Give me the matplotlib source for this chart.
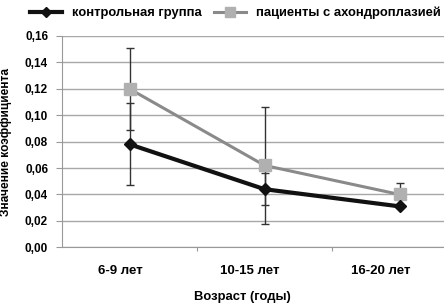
import matplotlib
matplotlib.use("Agg")
import matplotlib.pyplot as plt
from matplotlib.lines import Line2D
from matplotlib.ticker import FuncFormatter

plt.rcParams['font.family'] = ['Liberation Sans', 'DejaVu Sans']

categories = ["6-9 лет", "10-15 лет", "16-20 лет"]
control = [0.078, 0.044, 0.031]
control_err = [0.031, 0.012, 0.0]
patients = [0.120, 0.062, 0.040]
patients_err_low = [0.031, 0.044, 0.0]
patients_err_high = [0.031, 0.044, 0.009]
yticks = [0.00, 0.02, 0.04, 0.06, 0.08, 0.10, 0.12, 0.14, 0.16]
series_names = ['контрольная группа', 'пациенты с ахондроплазией']

W, H = 444, 306
fig = plt.figure(figsize=(W/100, H/100), dpi=100)
ax = fig.add_axes([62/W, 1-247.3/H, 405/W, (247.3-36)/H])

x = list(range(len(categories)))
ax.errorbar(x, patients, yerr=[patients_err_low, patients_err_high], color='#8a8a8a', lw=2.2,
            marker='s', ms=9, mfc='#b0b0b0', mec='#b0b0b0',
            ecolor='#333333', elinewidth=1, capsize=3, capthick=1, zorder=3)
ax.errorbar(x, control, yerr=control_err, color='#111111', lw=3,
            marker='D', ms=6, mfc='#111111', mec='#111111',
            ecolor='#333333', elinewidth=1, capsize=3, capthick=1, zorder=4)

ax.set_xlim(-0.5, 2.5)
ax.set_ylim(0, 0.16)
ax.set_yticks(yticks)
ax.yaxis.set_major_formatter(FuncFormatter(lambda v, p: f"{v:.2f}".replace('.', ',')))
ax.grid(axis='y', color='#a8a8a8', lw=1)
ax.set_axisbelow(True)
for s in ['top', 'right']:
    ax.spines[s].set_visible(False)
ax.spines['left'].set_color('#999999')
ax.spines['bottom'].set_color('#999999')
ax.tick_params(axis='y', length=4, color='#999999', labelsize=8.5, pad=6)
ax.set_xticks([0.5, 1.5])
ax.set_xticklabels([])
ax.tick_params(axis='x', length=3, color='#999999')
for lbl in ax.get_yticklabels():
    lbl.set_fontweight('bold')

label_px = [120, 250, 381]
for px, c in zip(label_px, categories):
    fig.text(px/W, 1-271/H, c, ha='center', va='center', fontsize=9.5, fontweight='bold')

fig.text(242/W, 1-297/H, "Возраст (годы)", ha='center', va='center',
         fontsize=9.4, fontweight='bold')
fig.text(6/W, 1-142/H, "Значение коэффициента", ha='center', va='center',
         rotation=90, fontsize=8.6, fontweight='bold')

handles = [
    Line2D([], [], color='#111111', lw=3, marker='D', ms=5, mfc='#111111', mec='#111111'),
    Line2D([], [], color='#8a8a8a', lw=2.2, marker='s', ms=7, mfc='#b0b0b0', mec='#b0b0b0'),
]
fig.legend(handles, series_names, loc='center left',
           bbox_to_anchor=(30/W, 1-13/H), ncol=2, frameon=False,
           prop={'size': 9.4, 'weight': 'bold'}, handlelength=2.45,
           columnspacing=0.9, handletextpad=0.77, borderpad=0, borderaxespad=0)

fig.savefig("out.png", dpi=100)
